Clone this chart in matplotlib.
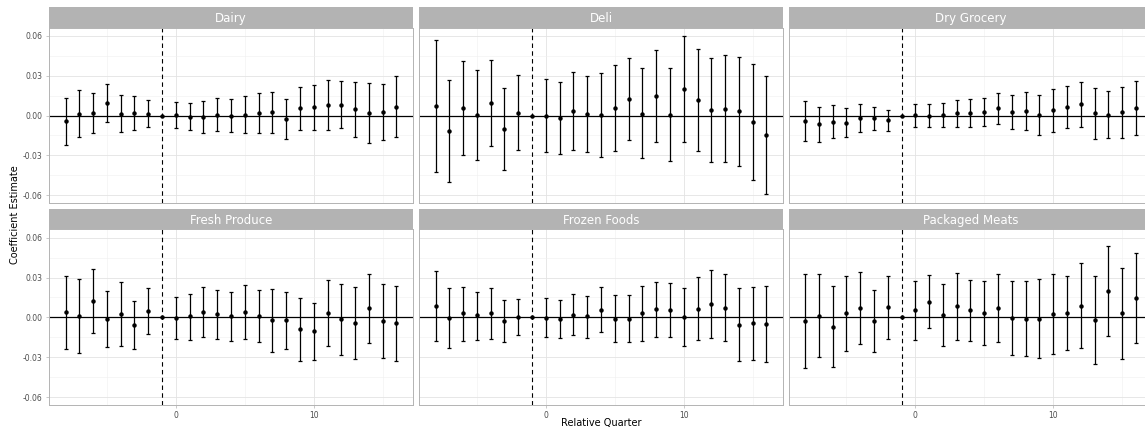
import matplotlib
matplotlib.use("Agg")
import matplotlib.pyplot as plt
import numpy as np

quarters = list(range(-8, 17))
categories = ["Dairy", "Deli", "Dry Grocery", "Fresh Produce", "Frozen Foods", "Packaged Meats"]
ref_quarter = -1

dairy_est = [-0.0042, 0.0015, 0.0020, 0.0097, 0.0012, 0.0017, 0.0012, 0.0, 0.0002, -0.0010, -0.0010, 0.0007, 0.0000,
             0.0007, 0.0017, 0.0025, -0.0027, 0.0055, 0.0062, 0.0079, 0.0082, 0.0047, 0.0020, 0.0025, 0.0064]
dairy_hi = [0.0136, 0.0193, 0.0171, 0.0238, 0.0154, 0.0144, 0.0117, None, 0.0102, 0.0094, 0.0112, 0.0134, 0.0126,
            0.0146, 0.0169, 0.0179, 0.0122, 0.0218, 0.0231, 0.0270, 0.0263, 0.0255, 0.0246, 0.0238, 0.0295]
dairy_lo = [-0.0223, -0.0161, -0.0134, -0.0050, -0.0126, -0.0109, -0.0089, None, -0.0094, -0.0112, -0.0131, -0.0119, -0.0124,
            -0.0129, -0.0134, -0.0129, -0.0179, -0.0109, -0.0107, -0.0109, -0.0097, -0.0161, -0.0206, -0.0186, -0.0164]

deli_est = [0.0069, -0.0117, 0.0060, 0.0002, 0.0092, -0.0102, 0.0022, 0.0, 0.0000, -0.0020, 0.0035, 0.0010, 0.0002,
            0.0055, 0.0122, 0.0015, 0.0144, 0.0005, 0.0198, 0.0117, 0.0045, 0.0052, 0.0032, -0.0052, -0.0146]
deli_hi = [0.0568, 0.0268, 0.0414, 0.0342, 0.0417, 0.0206, 0.0305, None, 0.0275, 0.0253, 0.0327, 0.0295, 0.0320,
           0.0380, 0.0432, 0.0355, 0.0491, 0.0355, 0.0598, 0.0498, 0.0432, 0.0454, 0.0444, 0.0387, 0.0298]
deli_lo = [-0.0427, -0.0501, -0.0298, -0.0335, -0.0231, -0.0409, -0.0260, None, -0.0275, -0.0288, -0.0258, -0.0273, -0.0310,
           -0.0268, -0.0186, -0.0322, -0.0201, -0.0342, -0.0201, -0.0265, -0.0347, -0.0350, -0.0377, -0.0486, -0.0593]

dry_est = [-0.0040, -0.0067, -0.0045, -0.0055, -0.0015, -0.0022, -0.0032, 0.0, 0.0002, 0.0000, 0.0007, 0.0017, 0.0020,
           0.0030, 0.0055, 0.0030, 0.0037, 0.0007, 0.0042, 0.0064, 0.0087, 0.0017, 0.0007, 0.0027, 0.0060]
dry_hi = [0.0109, 0.0064, 0.0079, 0.0057, 0.0089, 0.0064, 0.0045, None, 0.0087, 0.0087, 0.0094, 0.0117, 0.0124,
          0.0136, 0.0171, 0.0156, 0.0179, 0.0154, 0.0201, 0.0223, 0.0255, 0.0206, 0.0186, 0.0213, 0.0263]
dry_lo = [-0.0193, -0.0198, -0.0169, -0.0164, -0.0122, -0.0109, -0.0114, None, -0.0084, -0.0087, -0.0084, -0.0084, -0.0084,
          -0.0079, -0.0064, -0.0099, -0.0109, -0.0146, -0.0124, -0.0097, -0.0087, -0.0174, -0.0171, -0.0166, -0.0149]

produce_est = [0.0037, 0.0012, 0.0121, -0.0015, 0.0025, -0.0054, 0.0047, 0.0, -0.0005, 0.0007, 0.0042, 0.0022, 0.0007,
               0.0042, 0.0012, -0.0022, -0.0022, -0.0091, -0.0103, 0.0034, -0.0012, -0.0039, 0.0069, -0.0027, -0.0044]
produce_hi = [0.0310, 0.0290, 0.0362, 0.0197, 0.0263, 0.0125, 0.0219, None, 0.0157, 0.0177, 0.0231, 0.0204, 0.0192,
              0.0246, 0.0204, 0.0216, 0.0192, 0.0148, 0.0111, 0.0283, 0.0253, 0.0226, 0.0327, 0.0253, 0.0234]
produce_lo = [-0.0236, -0.0271, -0.0121, -0.0226, -0.0214, -0.0239, -0.0123, None, -0.0165, -0.0167, -0.0148, -0.0160, -0.0180,
              -0.0165, -0.0182, -0.0258, -0.0239, -0.0327, -0.0320, -0.0214, -0.0285, -0.0310, -0.0194, -0.0308, -0.0325]

frozen_est = [0.0089, -0.0005, 0.0030, 0.0015, 0.0034, -0.0030, 0.0005, 0.0, -0.0002, -0.0010, 0.0020, 0.0007, 0.0057,
              -0.0010, -0.0010, 0.0032, 0.0062, 0.0059, 0.0005, 0.0066, 0.0101, 0.0074, -0.0054, -0.0042, -0.0049]
frozen_hi = [0.0349, 0.0221, 0.0231, 0.0194, 0.0224, 0.0128, 0.0140, None, 0.0145, 0.0133, 0.0175, 0.0162, 0.0226,
             0.0167, 0.0167, 0.0234, 0.0266, 0.0261, 0.0224, 0.0303, 0.0357, 0.0325, 0.0224, 0.0231, 0.0239]
frozen_lo = [-0.0175, -0.0229, -0.0177, -0.0167, -0.0160, -0.0189, -0.0135, None, -0.0148, -0.0153, -0.0135, -0.0153, -0.0113,
             -0.0185, -0.0185, -0.0175, -0.0145, -0.0145, -0.0214, -0.0172, -0.0153, -0.0180, -0.0332, -0.0320, -0.0337]

meats_est = [-0.0030, 0.0012, -0.0069, 0.0030, 0.0071, -0.0030, 0.0076, 0.0, 0.0052, 0.0118, 0.0020, 0.0084, 0.0054,
             0.0032, 0.0071, -0.0007, -0.0010, -0.0010, 0.0027, 0.0034, 0.0086, -0.0017, 0.0199, 0.0030, 0.0145]
meats_hi = [0.0325, 0.0325, 0.0234, 0.0312, 0.0344, 0.0207, 0.0312, None, 0.0271, 0.0317, 0.0251, 0.0337, 0.0285,
            0.0271, 0.0327, 0.0276, 0.0271, 0.0290, 0.0327, 0.0315, 0.0406, 0.0310, 0.0534, 0.0369, 0.0487]
meats_lo = [-0.0381, -0.0300, -0.0374, -0.0256, -0.0204, -0.0261, -0.0160, None, -0.0167, -0.0081, -0.0214, -0.0172, -0.0180,
            -0.0207, -0.0187, -0.0285, -0.0290, -0.0308, -0.0273, -0.0248, -0.0234, -0.0349, -0.0138, -0.0310, -0.0194]

series = [
    (dairy_est, dairy_lo, dairy_hi),
    (deli_est, deli_lo, deli_hi),
    (dry_est, dry_lo, dry_hi),
    (produce_est, produce_lo, produce_hi),
    (frozen_est, frozen_lo, frozen_hi),
    (meats_est, meats_lo, meats_hi),
]

y_ticks = [-0.06, -0.03, 0.0, 0.03, 0.06]
y_ticklabels = ["-0.06", "-0.03", "0.00", "0.03", "0.06"]
x_ticks = [0, 10]
x_ticklabels = ["0", "10"]

plt.rcParams['font.family'] = ['DejaVu Sans']

W, H = 1145, 434
fig = plt.figure(figsize=(W / 100, H / 100), dpi=100)

col_left = [49, 419, 788.5]
col_w = 364
row_top = [27.5, 229.3]
panel_h = 175.2
strip_h = 20.2

border_col = "#B3B3B3"
strip_col = "#B3B3B3"

for i, (name, (est, lo, hi)) in enumerate(zip(categories, series)):
    r, c = divmod(i, 3)
    x0 = col_left[c] / W
    y0 = 1 - (row_top[r] + panel_h) / H
    ax = fig.add_axes([x0, y0, col_w / W, panel_h / H])
    sax = fig.add_axes([x0, 1 - row_top[r] / H, col_w / W, strip_h / H])
    sax.set_facecolor(strip_col)
    sax.set_xticks([]); sax.set_yticks([])
    for s in sax.spines.values():
        s.set_visible(False)
    sax.text(0.5, 0.45, name, color="white", ha="center", va="center", fontsize=8.5, transform=sax.transAxes)

    x = np.array(quarters, dtype=float)
    e = np.array(est, dtype=float)
    lo_a = np.array([np.nan if v is None else v for v in lo])
    hi_a = np.array([np.nan if v is None else v for v in hi])
    mask = ~np.isnan(lo_a)
    ax.errorbar(x[mask], e[mask], yerr=[e[mask] - lo_a[mask], hi_a[mask] - e[mask]], fmt="none",
                ecolor="black", elinewidth=0.9, capsize=1.3, capthick=0.9, zorder=3)
    ax.plot(x, e, "o", color="black", markersize=2.2, zorder=4)
    ax.axhline(0, color="black", lw=0.9, zorder=2)
    ax.axvline(ref_quarter, color="black", lw=0.8, linestyle=(0, (4, 3)), zorder=2)

    ax.set_xlim(-9.2, 17.2)
    ax.set_ylim(-0.0656, 0.0663)
    ax.set_xticks(x_ticks)
    ax.set_xticks([-5, 5, 15], minor=True)
    ax.set_yticks(y_ticks)
    ax.set_yticks([-0.045, -0.015, 0.015, 0.045], minor=True)
    ax.grid(True, which="major", color="#E3E3E3", lw=0.6, zorder=0)
    ax.grid(True, which="minor", color="#EFEFEF", lw=0.4, zorder=0)
    ax.set_axisbelow(True)
    for s in ax.spines.values():
        s.set_color(border_col)
        s.set_linewidth(0.7)
    ax.tick_params(which="major", length=2.5, width=0.5, color=border_col, labelsize=5.5, labelcolor="#4D4D4D", pad=2)
    ax.tick_params(which="minor", length=0)
    if c == 0:
        ax.set_yticklabels(y_ticklabels)
    else:
        ax.tick_params(axis="y", which="major", length=0, labelleft=False)
    if r == 1:
        ax.set_xticklabels(x_ticklabels)
    else:
        ax.tick_params(axis="x", which="major", length=0, labelbottom=False)

fig.text(601 / W, 1 - 423 / H, "Relative Quarter", ha="center", va="center", fontsize=7)
fig.text(15 / W, 1 - 215 / H, "Coefficient Estimate", ha="center", va="center", rotation=90, fontsize=7)

fig.savefig("out.png", dpi=100)
